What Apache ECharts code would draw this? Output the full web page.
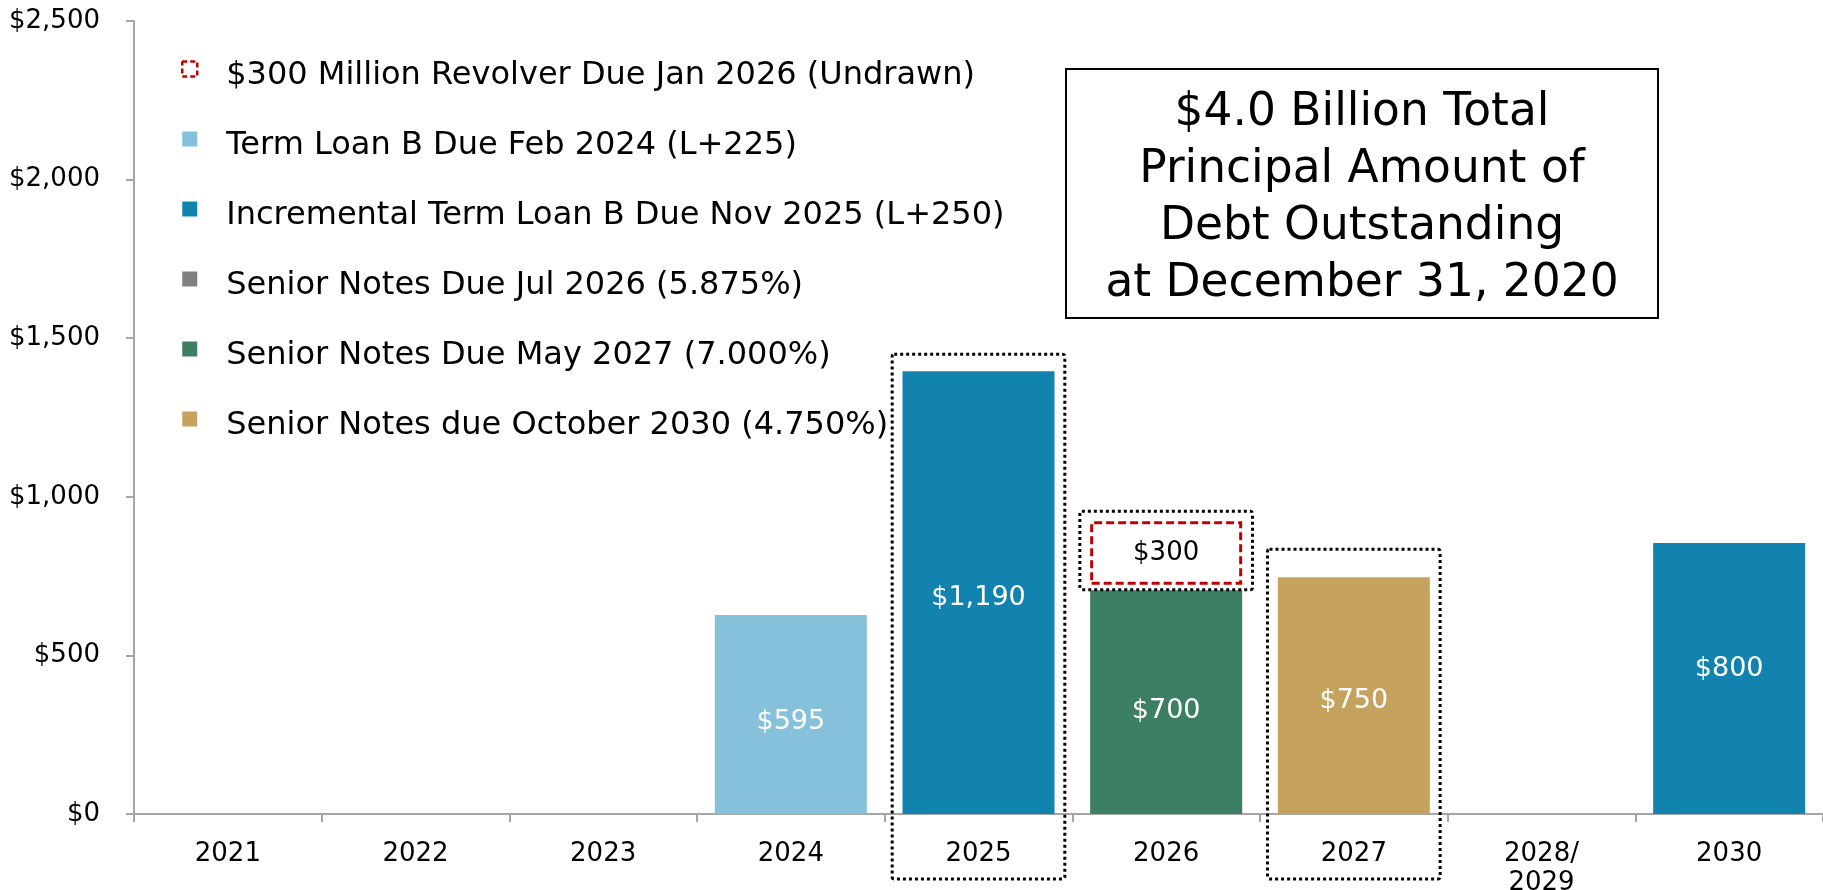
<!DOCTYPE html>
<html>
<head>
<meta charset="utf-8">
<script src="https://cdn.jsdelivr.net/npm/echarts@6/dist/echarts.min.js"></script>
<style>
  html, body { margin: 0; padding: 0; background: #fff; }
  #main { width: 1823px; height: 890px; }
</style>
</head>
<body>
<div id="main"></div>
<script>
// categories and values (drawn heights, $ millions)
var years = ['2021', '2022', '2023', '2024', '2025', '2026', '2027', '2028/\n2029', '2030'];
var termLoanB = ['-', '-', '-', 627, '-', '-', '-', '-', '-'];
var incrementalTermLoanB = ['-', '-', '-', '-', 1396, '-', '-', '-', 854];
var notesJul2026 = ['-', '-', '-', '-', '-', '-', '-', '-', '-'];
var notesMay2027 = ['-', '-', '-', '-', '-', 705, '-', '-', '-'];
var notesOct2030 = ['-', '-', '-', '-', '-', '-', 746, '-', '-'];
var revolverGap = ['-', '-', '-', '-', '-', 18, '-', '-', '-'];
var revolverUndrawn = ['-', '-', '-', '-', '-', 200, '-', '-', '-'];

// label texts as printed on the bars
var barLabels = ['', '', '', '$595', '$1,190', '$700', '$750', '', '$800'];
var revolverLabels = ['', '', '', '', '', '$300', '', '', ''];
var yTicks = [0, 500, 1000, 1500, 2000, 2500];

// small vertical nudges of the printed labels (px)
var labelNudge = [0, 0, 0, 7, 5, 9, 5, 0, -10];

var names = {
  revolver: '$300 Million Revolver Due Jan 2026 (Undrawn)',
  tlb: 'Term Loan B Due Feb 2024 (L+225)',
  itlb: 'Incremental Term Loan B Due Nov 2025 (L+250)',
  jul26: 'Senior Notes Due Jul 2026 (5.875%)',
  may27: 'Senior Notes Due May 2027 (7.000%)',
  oct30: 'Senior Notes due October 2030 (4.750%)'
};

var font = 'DejaVu Sans';
var myChart = echarts.init(document.getElementById('main'));

// square marker sitting a little above the text middle
var legendIcon = 'path://M0,0H15V15H0Z M0,29H0';

function withNudge(data) {
  return data.map(function (v, i) {
    if (v === '-') return v;
    return { value: v, label: { offset: [0, labelNudge[i]] } };
  });
}

function barSeries(name, data, color) {
  return {
    name: name,
    type: 'bar',
    stack: 'debt',
    barWidth: '81%',
    data: withNudge(data),
    itemStyle: { color: color },
    label: {
      show: true,
      position: 'inside',
      color: '#fff',
      fontSize: 27,
      fontFamily: font,
      formatter: function (p) { return barLabels[p.dataIndex]; }
    }
  };
}

var option = {
  animation: false,
  textStyle: { fontFamily: font },
  grid: { left: 134, right: 0, top: 21, bottom: 76, outerBoundsMode: 'none', containLabel: false },
  legend: {
    orient: 'vertical',
    left: 181,
    top: 58,
    padding: 0,
    icon: legendIcon,
    itemWidth: 15,
    itemHeight: 29,
    itemGap: 34,
    textStyle: { fontSize: 32, color: '#000', lineHeight: 36, padding: [0, 0, 0, 24], fontFamily: font },
    data: [
      { name: names.revolver, itemStyle: { color: '#fff', borderColor: '#C00000', borderWidth: 2.5, borderType: [5, 3] } },
      { name: names.tlb },
      { name: names.itlb },
      { name: names.jul26 },
      { name: names.may27 },
      { name: names.oct30 }
    ]
  },
  xAxis: {
    type: 'category',
    data: years,
    axisLine: { lineStyle: { color: '#A6A6A6', width: 2 } },
    axisTick: { show: true, length: 8, lineStyle: { color: '#A6A6A6', width: 2 } },
    axisLabel: { interval: 0, color: '#000', fontSize: 26, lineHeight: 29, margin: 26, fontFamily: font }
  },
  yAxis: {
    type: 'value',
    min: yTicks[0],
    max: yTicks[yTicks.length - 1],
    interval: 500,
    splitLine: { show: false },
    axisLine: { show: true, lineStyle: { color: '#A6A6A6', width: 2 } },
    axisTick: { show: true, length: 8, lineStyle: { color: '#A6A6A6', width: 2 } },
    axisLabel: {
      color: '#000', fontSize: 26, margin: 34, fontFamily: font,
      formatter: function (v) { return '$' + v.toLocaleString('en-US'); }
    }
  },
  series: [
    barSeries(names.tlb, termLoanB, '#85C1DA'),
    barSeries(names.itlb, incrementalTermLoanB, '#1283AF'),
    barSeries(names.jul26, notesJul2026, '#808080'),
    barSeries(names.may27, notesMay2027, '#3C7F62'),
    barSeries(names.oct30, notesOct2030, '#C5A35F'),
    {
      name: 'gap',
      type: 'bar',
      stack: 'debt',
      barWidth: '81%',
      silent: true,
      data: revolverGap,
      itemStyle: { color: 'rgba(0,0,0,0)' }
    },
    {
      name: names.revolver,
      type: 'bar',
      stack: 'debt',
      barWidth: '81%',
      data: revolverUndrawn,
      itemStyle: { color: '#fff', borderColor: '#C00000', borderWidth: 3, borderType: [8, 4] },
      label: {
        show: true, position: 'inside', color: '#000', fontSize: 26, fontFamily: font,
        formatter: function (p) { return revolverLabels[p.dataIndex]; }
      }
    }
  ]
};

myChart.setOption(option);

// dotted boxes around 2025, the revolver and 2027, placed from the axes
function px(cat, val) { return myChart.convertToPixel({ gridIndex: 0 }, [cat, val]); }
var band = px(1, 0)[0] - px(0, 0)[0];
var axisY = px(0, 0)[1];
var dotted = { stroke: '#000', lineWidth: 3, lineDash: [3, 3], fill: null };

function box(cat, topVal, topPad, bottomY) {
  var c = px(cat, topVal);
  var half = band * 0.46;
  return {
    type: 'rect',
    z: 100,
    shape: { x: c[0] - half, y: c[1] - topPad, width: half * 2, height: bottomY - (c[1] - topPad), r: 2 },
    style: dotted
  };
}

var revTop = notesMay2027[5] + revolverGap[5] + revolverUndrawn[5];
var revBottom = notesMay2027[5] + revolverGap[5];

myChart.setOption({
  graphic: [
    box(4, incrementalTermLoanB[4], 17, axisY + 65),
    box(5, revTop, 10, px(5, revBottom)[1] + 5),
    box(6, notesOct2030[6], 28, axisY + 65),
    {
      type: 'group',
      children: [
        { type: 'rect', shape: { x: 1066, y: 69, width: 592, height: 249 }, style: { fill: '#fff', stroke: '#000', lineWidth: 2 } },
        {
          type: 'text',
          x: 1362, y: 199,
          style: {
            text: '$4.0 Billion Total\nPrincipal Amount of\nDebt Outstanding\nat December 31, 2020',
            font: '45.5px "DejaVu Sans"',
            lineHeight: 57,
            fill: '#000',
            align: 'center',
            verticalAlign: 'middle'
          }
        }
      ]
    }
  ]
});
</script>
</body>
</html>
